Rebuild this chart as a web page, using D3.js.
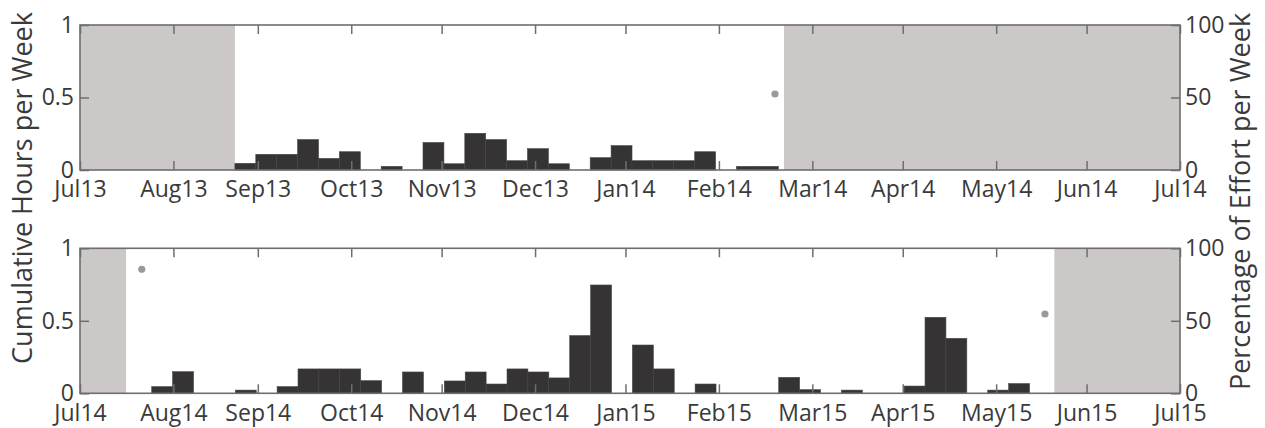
<!DOCTYPE html>
<html>
<head>
<meta charset="utf-8">
<script src="https://cdn.jsdelivr.net/npm/d3@7"></script>
<style>
  body { margin: 0; background: #fff; }
  svg { font-family: "Open Sans", sans-serif; }
  .tick text { fill: #3a3a3a; }
</style>
</head>
<body>
<svg id="chart" width="1265" height="428"></svg>
<script>
// ticks are placed at cumulative month lengths counted from Jul 1 (as in the original)
const tickDays = [0, 31, 59, 90, 120, 151, 181, 212, 243, 273, 304, 334, 365];
const labels2013 = ['Jul13','Aug13','Sep13','Oct13','Nov13','Dec13','Jan14','Feb14','Mar14','Apr14','May14','Jun14','Jul14'];
const labels2014 = ['Jul14','Aug14','Sep14','Oct14','Nov14','Dec14','Jan15','Feb15','Mar15','Apr15','May15','Jun15','Jul15'];
const hourTicks = [0, 0.5, 1];
const pctTicks = [0, 50, 100];

// weekly bins, days since Jul 1
const binDays = 6.935;
const start2013 = 51.4;
const hours2013 = [0.046,0.108,0.108,0.21,0.08,0.126,0,0.025,0,0.19,0.043,0.253,0.21,0.064,0.147,0.043,
    0,0.085,0.168,0.064,0.064,0.064,0.126,0,0.025,0.025];
const start2014 = 23.8;
const hours2014 = [0.046,0.149,0,0,0.022,0,0.046,0.168,0.168,0.168,0.087,0,0.147,0,0.085,0.147,0.064,
    0.168,0.147,0.106,0.398,0.747,0,0.333,0.168,0,0.064,0,0,0,0.11,0.025,0,0.022,0,0,0.05,0.524,0.379,0,0.022,0.067];

// periods without effort (shaded), in days since Jul 1
const off2013 = [[0, 51.4], [233.6, 365]];
const off2014 = [[0, 15.3], [323.3, 365]];

// percentage of effort per week
const effort2013 = [{day: 230.6, pct: 52.4}];
const effort2014 = [{day: 20.5, pct: 85.5}, {day: 320.2, pct: 54.7}];

let svg = d3.select('#chart'),
    left = 80, right = 1180, ph = 145,
    tickLen = 9, axisCol = '#6e6e6e';

svg.append('rect').attr('width', 1265).attr('height', 428).attr('fill', '#fff');

let x = d3.scaleLinear().domain([0, 365]).range([left, right]);

function drawPanel(top, hours, start, off, effort, labels){
    let g = svg.append('g'),
        y = d3.scaleLinear().domain([0, 1]).range([top + ph, top]),
        yp = d3.scaleLinear().domain([0, 100]).range([top + ph, top]);

    //zones sans effort
    g.selectAll('.off').data(off).enter()
        .append('rect')
        .attr('x', d => x(d[0]))
        .attr('width', d => x(d[1]) - x(d[0]))
        .attr('y', top).attr('height', ph)
        .attr('fill', '#ccc8c8');

    //histogramme hebdo
    let bins = hours.map((v, i) => ({x0: start + i*binDays, x1: start + (i+1)*binDays, v: v}))
        .filter(d => d.v > 0);
    g.selectAll('.bar').data(bins).enter()
        .append('rect')
        .attr('x', d => x(d.x0))
        .attr('width', d => x(d.x1) - x(d.x0))
        .attr('y', d => y(d.v))
        .attr('height', d => y(0) - y(d.v))
        .attr('fill', '#353334')
        .attr('stroke', '#444')
        .attr('stroke-width', 0.6);

    g.selectAll('.dot').data(effort).enter()
        .append('circle')
        .attr('cx', d => x(d.day))
        .attr('cy', d => yp(d.pct))
        .attr('r', 3.6)
        .attr('fill', '#9a9a9a');

    //axes, ticks vers l'interieur
    let ax = [
        g.append('g').attr('transform', `translate(0,${top + ph})`)
            .call(d3.axisBottom(x).tickValues(tickDays).tickSizeInner(-tickLen).tickSizeOuter(0)
                .tickPadding(11).tickFormat((d, i) => labels[i])),
        g.append('g').attr('transform', `translate(0,${top})`)
            .call(d3.axisTop(x).tickValues(tickDays).tickSizeInner(-tickLen).tickSizeOuter(0).tickFormat('')),
        g.append('g').attr('transform', `translate(${left},0)`)
            .call(d3.axisLeft(y).tickValues(hourTicks).tickSizeInner(-tickLen).tickSizeOuter(0)
                .tickPadding(6).tickFormat(d3.format('~g'))),
        g.append('g').attr('transform', `translate(${right},0)`)
            .call(d3.axisRight(yp).tickValues(pctTicks).tickSizeInner(-tickLen).tickSizeOuter(0)
                .tickPadding(5))
    ];
    ax.forEach(a => {
        a.select('.domain').remove();
        a.selectAll('line').attr('stroke', axisCol).attr('stroke-width', 1.5);
        a.selectAll('text').attr('font-size', 23).attr('font-family', '"Open Sans", sans-serif');
    });

    g.append('rect')
        .attr('x', left).attr('y', top)
        .attr('width', right - left).attr('height', ph)
        .attr('fill', 'none')
        .attr('stroke', axisCol)
        .attr('stroke-width', 1.6);
}

drawPanel(25, hours2013, start2013, off2013, effort2013, labels2013);
drawPanel(248.3, hours2014, start2014, off2014, effort2014, labels2014);

svg.append('text')
    .attr('transform', 'translate(32,188) rotate(-90)')
    .attr('text-anchor', 'middle')
    .attr('font-size', 27)
    .attr('fill', '#3a3a3a')
    .text('Cumulative Hours per Week');

svg.append('text')
    .attr('transform', 'translate(1250,201.5) rotate(-90)')
    .attr('text-anchor', 'middle')
    .attr('font-size', 27)
    .attr('fill', '#3a3a3a')
    .text('Percentage of Effort per Week');
</script>
</body>
</html>
